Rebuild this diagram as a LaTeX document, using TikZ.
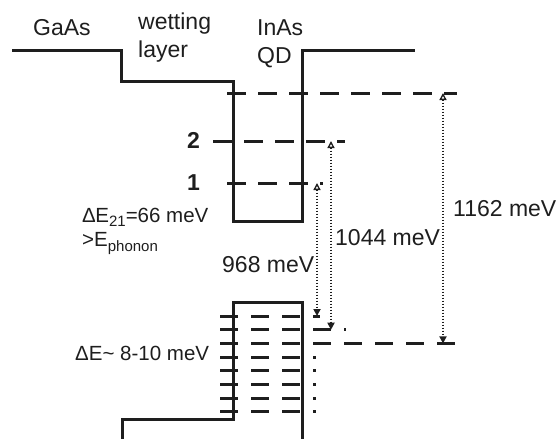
\documentclass[tikz,border=0pt]{standalone}
\usepackage{fontspec}
\setmainfont{Liberation Sans}
\usetikzlibrary{arrows.meta}
\definecolor{ink}{HTML}{1E1E1E}
\begin{document}
\begin{tikzpicture}[x=1pt,y=-1pt, color=ink,
  band/.style={line width=3pt, line join=miter},
  elev/.style={line width=3pt, dash pattern=on 18.5pt off 12.5pt},
  hlev/.style={line width=3pt, dash pattern=on 17.5pt off 13.5pt},
  trans/.style={line width=2pt, dash pattern=on 1.5pt off 1.5pt,
    {Triangle[open,length=7pt,width=7pt,line width=1.3pt]}-{Triangle[length=7pt,width=7pt]}},
  lab/.style={inner sep=0pt, anchor=base west, font=\fontsize{23}{26}\selectfont},
  slab/.style={inner sep=0pt, anchor=base west, font=\fontsize{20.5}{24}\selectfont},
  blab/.style={inner sep=0pt, anchor=base west, font=\fontsize{23}{26}\selectfont\bfseries}]
\useasboundingbox (0,0) rectangle (557,439);

% band edges
\draw[band] (12,50) -- (121,50) -- (121,81) -- (233,81) -- (233,221) -- (302,221) -- (302,50) -- (415,50);
\draw[band] (122,445) -- (122,419) -- (233,419) -- (233,302) -- (302,302) -- (302,445);

% electron levels
\draw[elev] (227,93) -- (457,93);
\draw[elev] (213,141) -- (345,141);
\draw[elev] (227,183) -- (323,183);

% hole levels
\foreach \k/\xe in {0/320,1/346,2/455,3/316,4/316,5/316,6/316,7/316}{
  \draw[hlev] (220,{316+13.7*\k}) -- (\xe,{316+13.7*\k});
}

% transition endpoints
\coordinate (e1) at (317,183);
\coordinate (h1) at (317,316);
\coordinate (e2) at (331,141);
\coordinate (h2) at (331,329.7);
\coordinate (e3) at (443,93);
\coordinate (h3) at (443,343.4);
\draw[trans] (e1) -- (h1);
\draw[trans] (e2) -- (h2);
\draw[trans] (e3) -- (h3);

% labels
\node[lab] (gaas) at (33,35) {GaAs};
\node[lab] (wet) at (138,29) {wetting};
\node[lab] (lay) at (138,57) {layer};
\node[lab] (inas) at (257,35) {InAs};
\node[lab] (qd) at (257,63) {QD};
\node[blab] (n2) at (187,148) {2};
\node[blab] (n1) at (187,190) {1};
\node[slab] (d21) at (82,222) {Δ\kern-0.5pt E\raisebox{-0.4ex}{\fontsize{15}{15}\selectfont 21}=66 meV};
\node[slab] (eph) at (82,246) {>E\raisebox{-0.5ex}{\fontsize{15}{15}\selectfont phonon}};
\node[lab] (t968) at (222,272) {968 meV};
\node[lab] (t1044) at (335,245) {1044 meV};
\node[lab] (t1162) at (453,216) {1162 meV};
\node[slab] (dE) at (75,360) {ΔE\textasciitilde{} 8-10 meV};
\end{tikzpicture}
\end{document}
